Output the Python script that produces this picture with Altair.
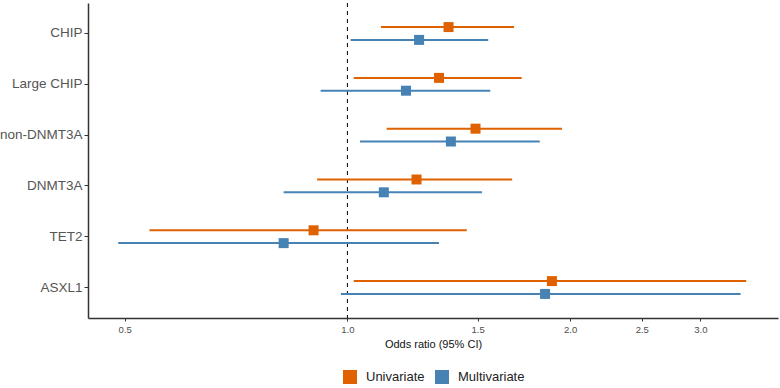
import altair as alt
import pandas as pd

# Subgroups, top to bottom
categories = ["CHIP", "Large CHIP", "non-DNMT3A", "DNMT3A", "TET2", "ASXL1"]
models = ["Univariate", "Multivariate"]

# Odds ratios with 95% confidence limits
uni_or = [1.37, 1.33, 1.49, 1.24, 0.90, 1.89]
uni_lo = [1.11, 1.02, 1.13, 0.91, 0.54, 1.02]
uni_hi = [1.68, 1.72, 1.95, 1.67, 1.45, 3.46]

multi_or = [1.25, 1.20, 1.38, 1.12, 0.82, 1.85]
multi_lo = [1.01, 0.92, 1.04, 0.82, 0.49, 0.98]
multi_hi = [1.55, 1.56, 1.82, 1.52, 1.33, 3.40]

x_ticks = [0.5, 1.0, 1.5, 2.0, 2.5, 3.0]
ref_value = [1.0]

rows = []
for i, cat in enumerate(categories):
    rows.append({"group": cat, "model": models[0], "or": uni_or[i], "lo": uni_lo[i], "hi": uni_hi[i]})
    rows.append({"group": cat, "model": models[1], "or": multi_or[i], "lo": multi_lo[i], "hi": multi_hi[i]})
df = pd.DataFrame(rows)

colors = ["#DF6100", "#4682B4"]
font = "Liberation Sans"

x_scale = alt.Scale(type="log", domain=[0.446, 3.82], nice=False, zero=False)
y_enc = alt.Y(
    "group:N",
    sort=categories,
    scale=alt.Scale(paddingInner=0, paddingOuter=0.1),
    axis=alt.Axis(
        title=None,
        labelFontSize=13.5,
        labelColor="#555555",
        labelFont=font,
        labelPadding=2,
        tickSize=4,
        tickColor="#333333",
        domainColor="#333333",
        domainWidth=1.5,
        grid=False,
    ),
)
y_off = alt.YOffset(
    "model:N",
    sort=models,
    scale=alt.Scale(domain=models, paddingInner=0, paddingOuter=0.98),
)
color_enc = alt.Color(
    "model:N",
    sort=models,
    scale=alt.Scale(domain=models, range=colors),
    legend=alt.Legend(
        title=None,
        orient="none",
        direction="horizontal",
        legendX=255,
        legendY=367,
        symbolType="square",
        symbolSize=196,
        symbolStrokeWidth=0,
        symbolOpacity=1,
        labelFontSize=13,
        labelFont=font,
        labelColor="#222222",
        labelOffset=9,
        columnPadding=10,
        padding=0,
    ),
)

base = alt.Chart(df)

ci = base.mark_rule(strokeWidth=2).encode(
    x=alt.X(
        "lo:Q",
        scale=x_scale,
        axis=alt.Axis(
            values=x_ticks,
            format=".1f",
            title="Odds ratio (95% CI)",
            titleFont=font,
            titleFontSize=11,
            titleFontWeight="normal",
            titleColor="#111111",
            titlePadding=5,
            labelFont=font,
            labelFontSize=9.5,
            labelColor="#4D4D4D",
            labelPadding=3,
            tickSize=3,
            tickColor="#333333",
            domainColor="#333333",
            domainWidth=1.5,
            grid=False,
        ),
    ),
    x2="hi:Q",
    y=y_enc,
    yOffset=y_off,
    color=color_enc,
)

pts = base.mark_square(size=100, opacity=1).encode(
    x=alt.X("or:Q", scale=x_scale),
    y=y_enc,
    yOffset=y_off,
    color=color_enc,
)

ref = alt.Chart(pd.DataFrame({"v": ref_value})).mark_rule(
    color="black", strokeWidth=1, strokeDash=[4, 4]
).encode(x=alt.X("v:Q", scale=x_scale))

chart = (
    alt.layer(ref, ci, pts)
    .properties(
        width=690,
        height=315,
        autosize=alt.AutoSizeParams(type="none"),
        padding={"left": 88, "top": 3, "right": 2, "bottom": 70},
        background="white",
    )
    .configure_view(stroke=None)
)

chart.save("out.html", embed_options={"renderer": "svg", "actions": False})
